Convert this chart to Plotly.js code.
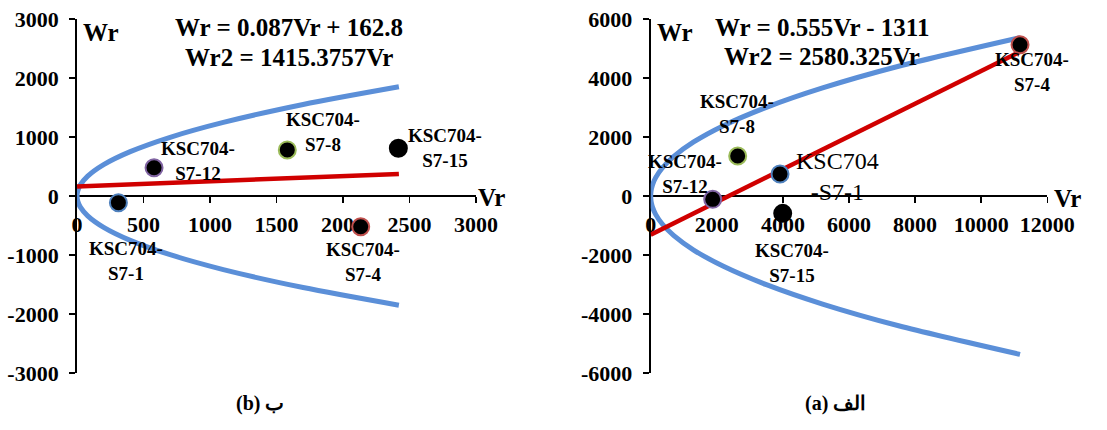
<!DOCTYPE html>
<html><head><meta charset="utf-8">
<script src="https://cdn.plot.ly/plotly-3.0.1.min.js"></script>
<style>html,body{margin:0;padding:0;background:#fff}#chart{width:1107px;height:430px}</style>
</head><body><div id="chart"></div>
<script>
// ---------- Panel (b) (left) ----------
const namesB = ['KSC704-S7-12', 'KSC704-S7-8', 'KSC704-S7-15', 'KSC704-S7-1', 'KSC704-S7-4'];
const labelTextB = ['KSC704-<br>S7-12', 'KSC704-<br>S7-8', 'KSC704-<br>S7-15', 'KSC704-<br>S7-1', 'KSC704-<br>S7-4'];
const vrB = [579, 1581, 2416, 311, 2133];
const wrB = [480, 781, 810, -113, -521];
const regVrB = [0, 2420];
const regWrB = [162.8, 373.3];
const parVrB = [2420, 1700, 1100, 700, 400, 200, 80, 25, 5, 0, 5, 25, 80, 200, 400, 700, 1100, 1700, 2420];
const parWrB = [-1850.7, -1551.2, -1247.8, -995.4, -752.4, -532.0, -336.5, -188.1, -84.1, 0, 84.1, 188.1, 336.5, 532.0, 752.4, 995.4, 1247.8, 1551.2, 1850.7];
const eqB = ['Wr = 0.087Vr + 162.8', 'Wr2 = 1415.3757Vr'];
const xTicksB = [0, 500, 1000, 1500, 2000, 2500, 3000];
const yTicksB = [-3000, -2000, -1000, 0, 1000, 2000, 3000];
const captionB = '(b) ب';

// ---------- Panel (a) (right) ----------
const namesA = ['KSC704-S7-4', 'KSC704-S7-8', 'KSC704-S7-12', 'KSC704-S7-1', 'KSC704-S7-15'];
const labelTextA = ['KSC704-<br>S7-4', 'KSC704-<br>S7-8', 'KSC704-<br>S7-12', 'KSC704<br>-S7-1', 'KSC704-<br>S7-15'];
const vrA = [11174, 2632, 1876, 3913, 3994];
const wrA = [5127, 1358, -113, 747, -588];
const regVrA = [0, 11174];
const regWrA = [-1311, 4890.6];
const parVrA = [11174, 7500, 5200, 3500, 2200, 1300, 700, 350, 150, 60, 20, 5, 0, 5, 20, 60, 150, 350, 700, 1300, 2200, 3500, 5200, 7500, 11174];
const parWrA = [-5369.6, -4399.1, -3663.0, -3005.2, -2382.6, -1831.5, -1344.0, -950.3, -622.1, -393.5, -227.2, -113.6, 0, 113.6, 227.2, 393.5, 622.1, 950.3, 1344.0, 1831.5, 2382.6, 3005.2, 3663.0, 4399.1, 5369.6];
const eqA = ['Wr = 0.555Vr - 1311', 'Wr2 = 2580.325Vr'];
const xTicksA = [0, 2000, 4000, 6000, 8000, 10000, 12000];
const yTicksA = [-6000, -4000, -2000, 0, 2000, 4000, 6000];
const captionA = '(a) الف';

// ---------- styles ----------
const FONT = 'Liberation Serif, Times New Roman, serif';
const BLUE = '#5B8FD8';
const RED = '#D00000';
const outlineB = ['#8064A2', '#9BBB59', '#000000', '#4F81BD', '#C0504D'];
const outlineA = ['#C0504D', '#9BBB59', '#8064A2', '#4F81BD', '#000000'];
const shiftB = [[44, 7], [36, 18], [47, 0], [8, -58], [2, -35]];
const shiftA = [[12, -27], [-1, 42], [-28, 25], [57, -3], [9, -50]];
const labelStyleA = [null, null, null, {size: 24, weight: 'normal'}, null];

function traces(parX, parY, regX, regY, px, py, outl, names, xa, ya) {
  return [
    {x: parX, y: parY, xaxis: xa, yaxis: ya, mode: 'lines', type: 'scatter',
     line: {color: BLUE, width: 5, shape: 'spline', smoothing: 0.8}, hoverinfo: 'skip'},
    {x: regX, y: regY, xaxis: xa, yaxis: ya, mode: 'lines', type: 'scatter',
     line: {color: RED, width: 4.5}, hoverinfo: 'skip'},
    {x: px, y: py, xaxis: xa, yaxis: ya, mode: 'markers', type: 'scatter', text: names,
     marker: {color: '#000', size: 17, line: {color: outl, width: 2}}, cliponaxis: false}
  ];
}

const data = [
  ...traces(parVrB, parWrB, regVrB, regWrB, vrB, wrB, outlineB, namesB, 'x', 'y'),
  ...traces(parVrA, parWrA, regVrA, regWrA, vrA, wrA, outlineA, namesA, 'x2', 'y2')
];

const tickFont = {family: FONT, size: 22, color: '#000', weight: 'bold'};
function xAxis(dom, ticks) {
  return {domain: dom, range: [ticks[0], ticks[ticks.length - 1]], tickvals: ticks,
    ticktext: ticks.map(String), anchor: 'free', position: 0.5, showline: true,
    linecolor: '#000', linewidth: 2, ticks: 'outside', ticklen: 6, tickwidth: 1.5,
    tickcolor: '#000', showgrid: false, zeroline: false, tickfont: tickFont,
    ticklabelstandoff: 3, layer: 'below traces', fixedrange: true};
}
function yAxis(ticks, anchorX) {
  return {domain: [0, 1], range: [ticks[0], ticks[ticks.length - 1]], tickvals: ticks,
    ticktext: ticks.map(String), anchor: anchorX, showline: true, linecolor: '#000',
    linewidth: 2, ticks: 'outside', ticklen: 6, tickwidth: 1.5, tickcolor: '#000',
    showgrid: false, zeroline: false, tickfont: tickFont, ticklabelstandoff: 6,
    layer: 'below traces', fixedrange: true};
}

const annotations = [];
const boldF = (s) => ({family: FONT, size: s, color: '#000', weight: 'bold'});
vrB.forEach((v, i) => annotations.push({x: v, y: wrB[i], xref: 'x', yref: 'y', text: labelTextB[i],
  showarrow: false, xshift: shiftB[i][0], yshift: shiftB[i][1], font: boldF(19), align: 'center'}));
vrA.forEach((v, i) => {
  const st = labelStyleA[i];
  annotations.push({x: v, y: wrA[i], xref: 'x2', yref: 'y2', text: labelTextA[i],
    showarrow: false, xshift: shiftA[i][0], yshift: shiftA[i][1],
    font: st ? {family: FONT, size: st.size, color: '#000', weight: st.weight} : boldF(19), align: 'center'});
});
// equations (two lines each)
annotations.push({x: 1594, y: 2903, xref: 'x', yref: 'y', text: eqB[0], showarrow: false, font: boldF(25), xanchor: 'center', yshift: -3});
annotations.push({x: 1594, y: 2394, xref: 'x', yref: 'y', text: eqB[1], showarrow: false, font: boldF(25), xanchor: 'center', yshift: -3});
annotations.push({x: 5174, y: 5806, xref: 'x2', yref: 'y2', text: eqA[0], showarrow: false, font: boldF(25), xanchor: 'center', yshift: -3});
annotations.push({x: 5174, y: 4846, xref: 'x2', yref: 'y2', text: eqA[1], showarrow: false, font: boldF(25), xanchor: 'center', yshift: -3});
// axis name labels
annotations.push({x: 178, y: 2767, xref: 'x', yref: 'y', text: 'Wr', showarrow: false, font: boldF(25)});
annotations.push({x: 735, y: 5535, xref: 'x2', yref: 'y2', text: 'Wr', showarrow: false, font: boldF(25)});
annotations.push({x: 3000, y: 0, xref: 'x', yref: 'y', text: 'Vr', showarrow: false, xanchor: 'left', xshift: 0, yshift: -1, font: boldF(25)});
annotations.push({x: 12000, y: 0, xref: 'x2', yref: 'y2', text: 'Vr', showarrow: false, xanchor: 'left', xshift: 5, yshift: -2, font: boldF(25)});
// captions
annotations.push({x: 0.2349, y: -0.1234, xref: 'paper', yref: 'paper', text: captionB, showarrow: false, xanchor: 'center', font: boldF(20)});
annotations.push({x: 0.7550, y: -0.1234, xref: 'paper', yref: 'paper', text: captionA, showarrow: false, xanchor: 'center', font: boldF(20)});

const layout = {
  width: 1107, height: 430, margin: {l: 0, r: 0, t: 19, b: 57}, showlegend: false,
  paper_bgcolor: '#fff', plot_bgcolor: 'rgba(0,0,0,0)',
  xaxis: xAxis([0.0696, 0.4300], xTicksB),
  yaxis: yAxis(yTicksB, 'x'),
  xaxis2: xAxis([0.5878, 0.9461], xTicksA),
  yaxis2: yAxis(yTicksA, 'x2'),
  annotations: annotations
};

Plotly.newPlot('chart', data, layout, {displayModeBar: false, staticPlot: true});
</script></body></html>
